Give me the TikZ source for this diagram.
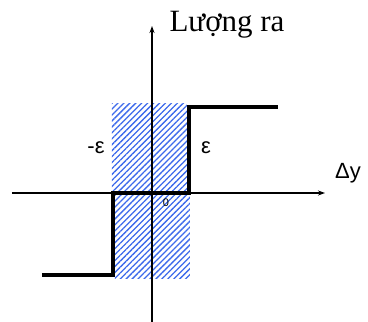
\documentclass[tikz,border=0pt]{standalone}
\usepackage{fontspec}
\setmainfont{Liberation Serif}
\newfontfamily\arialf{Liberation Sans}
\usetikzlibrary{patterns.meta,arrows.meta}
\definecolor{hatchblue}{RGB}{60,105,235}
\begin{document}
\begin{tikzpicture}[x=1pt,y=-1pt,
  axis/.style={line width=1.5pt,-{Stealth[length=7pt,width=5pt]}},
  stepline/.style={line width=4pt,line join=miter,line cap=butt},
  hatchbox/.style={pattern={Lines[angle=45,distance=4.2pt,line width=1.3pt]},pattern color=hatchblue},
  lbl/.style={font=\arialf\fontsize{22}{24}\selectfont,inner sep=0pt,anchor=base}]
\useasboundingbox (0,0) rectangle (368,322);
% hatched zone
\fill[hatchbox] (112,103) rectangle (187,193);
\fill[hatchbox] (115,193) rectangle (190,278);
% axes
\coordinate (xs) at (12,193);
\coordinate (xe) at (325,193);
\coordinate (ys) at (152,322);
\coordinate (ye) at (152,26);
\draw[axis] (xs) -- (xe);
\draw[axis] (ys) -- (ye);
% step characteristic
\coordinate (a) at (42,275);
\coordinate (b) at (113,275);
\coordinate (c) at (113,193);
\coordinate (d) at (189,193);
\coordinate (e) at (189,107);
\coordinate (f) at (278,107);
\draw[stepline] (a) -- (b) -- (c) -- (d) -- (e) -- (f);
% labels
\node[inner sep=0pt,anchor=base,font=\fontsize{31}{33}\selectfont] (out) at (227,31) {Lượng ra};
\node[lbl] (dy) at (348,178) {Δy};
\node[lbl] (eps) at (206,153) {ε};
\node[lbl] (meps) at (96,153) {-ε};
\node[inner sep=0pt,font=\arialf\fontsize{11}{12}\selectfont] (zero) at (166,203) {0};
\end{tikzpicture}
\end{document}
